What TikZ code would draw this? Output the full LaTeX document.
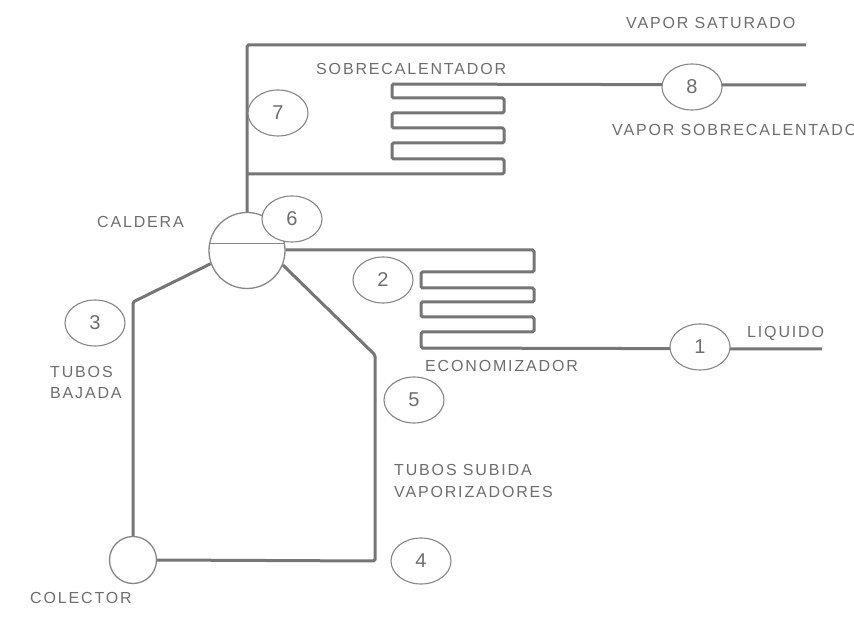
\documentclass[tikz,border=0pt]{standalone}
\usepackage{fontspec}
\setmainfont{Liberation Sans}
\usetikzlibrary{shapes.geometric}
\definecolor{pipe}{RGB}{118,118,118}
\definecolor{thin}{RGB}{135,135,135}
\definecolor{txt}{RGB}{110,110,110}
\tikzset{
  pipeline/.style={draw=pipe,line width=3pt,rounded corners=1.5pt},
  numcircle/.style={ellipse,draw=thin,line width=1.1pt,fill=white,minimum width=60pt,minimum height=46pt,inner sep=0pt,text=txt,font=\fontsize{20}{20}\selectfont},
  vessel/.style={circle,draw=thin,line width=1.3pt,fill=white,inner sep=0pt},
  lbl/.style={text=txt,font=\fontsize{16}{21.5}\selectfont\addfontfeature{LetterSpace=11.5},inner sep=0pt,align=left,anchor=west}
}
\begin{document}
\begin{tikzpicture}[x=1pt,y=-1pt]
\useasboundingbox[fill=white] (0,0) rectangle (854,617);
% free ends and bends
\coordinate (tr) at (806,45);
\coordinate (tl) at (247,45);
\coordinate (or) at (806,85);
\coordinate (lr) at (822,349);
\coordinate (b1) at (133,302);
\coordinate (b2) at (375,561);
\coordinate (b3) at (375,355);
% vessels
\node[vessel,minimum size=76pt] (drum) at (247,250.5) {};
\node[vessel,minimum size=47pt] (col) at (133,560) {};
% pipes
\draw[pipeline] (tr) -- (tl) -- (drum.north);
\draw[pipeline] (or) -- (392,84) -- (392,98) -- (504,98) -- (504,113) -- (392,113) -- (392,128) -- (504,128) -- (504,143) -- (392,143) -- (392,159) -- (504,159) -- (504,174) -- (247,174);
\draw[pipeline] (drum.east |- 0,250) -- (534,250) -- (534,272) -- (421,272) -- (421,288) -- (534,288) -- (534,302) -- (421,302) -- (421,317) -- (534,317) -- (534,332) -- (421,332) -- (421,348) -- (lr);
\draw[pipeline] (drum.200) -- (b1) -- (col.north);
\draw[pipeline] (col.east) -- (b2) -- (b3) -- (drum.-22);
\draw[draw=thin,line width=1pt] (drum.170) -- (drum.10);
% numbered circles
\node[numcircle] (n1) at (700,347) {1};
\node[numcircle] (n2) at (383,280) {2};
\node[numcircle] (n3) at (95,323) {3};
\node[numcircle] (n4) at (421,561) {4};
\node[numcircle] (n5) at (414,400) {5};
\node[numcircle] (n6) at (292,219) {6};
\node[numcircle] (n7) at (278,113) {7};
\node[numcircle] (n8) at (692,87) {8};
% labels
\node[lbl] (a) at (626,23) {VAPOR SATURADO};
\node[lbl] (b) at (316,69) {SOBRECALENTADOR};
\node[lbl] (c) at (612,130) {VAPOR SOBRECALENTADO};
\node[lbl] (d) at (97,222) {CALDERA};
\node[lbl] (e) at (747,333) {LIQUIDO};
\node[lbl] (f) at (425,366) {ECONOMIZADOR};
\node[lbl] (g) at (50,382.5) {TUBOS\\BAJADA};
\node[lbl] (h) at (394,481) {TUBOS SUBIDA\\VAPORIZADORES};
\node[lbl] (i) at (30,598) {COLECTOR};
\end{tikzpicture}
\end{document}
